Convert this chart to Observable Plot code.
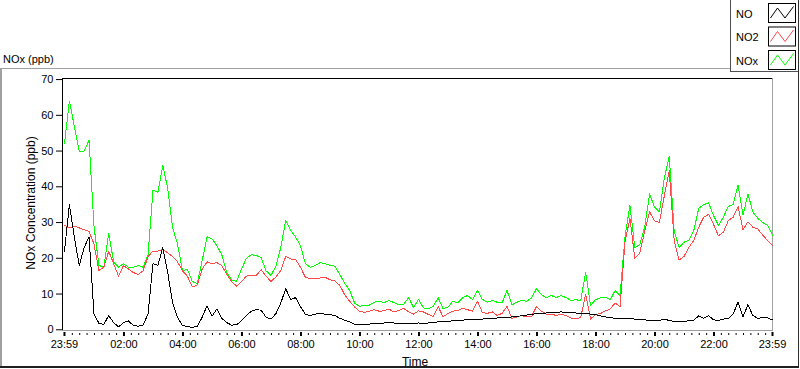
<!DOCTYPE html>
<html>
<head>
<meta charset="utf-8">
<script src="https://cdn.jsdelivr.net/npm/d3@7"></script>
<script src="https://cdn.jsdelivr.net/npm/@observablehq/plot@0.6"></script>
<style>
  html, body { margin: 0; padding: 0; background: #fff; }
  #wrap { position: relative; width: 800px; height: 369px; overflow: hidden; font-family: "Liberation Sans", Arial, sans-serif; color: #000; }
  #chart { position: absolute; left: 0; top: 0; }
  #deco { position: absolute; left: 0; top: 0; pointer-events: none; }
</style>
</head>
<body>
<div id="wrap">
  <div id="chart"></div>
  <svg id="deco" width="800" height="369"></svg>
</div>
<script>
// ---- data (one sample every 10 minutes, starting 23:59 the previous day) ----
const stepMinutes = 10;

const seriesNames = ["NO", "NO2", "NOx"];
const seriesColors = ["#000000", "#ff4848", "#00ff00"];

const NO = [
  22, 35, 26, 18, 23, 26, 4.5, 1.8, 1.5, 4, 2, 0.8, 2, 2.5, 1.2, 1, 1.3, 4.5, 18.5, 18,
  23, 16, 7.5, 3.4, 1.2, 0.9, 0.7, 0.9, 3.5, 6.7, 3.8, 5.8, 3.2, 2, 1.3, 1.4, 2.5, 4, 5.2, 5.6,
  5.5, 3.5, 3, 4.5, 7.5, 11.5, 8.5, 9, 6.5, 4.3, 4, 4.4, 4.5, 4.4, 4.2, 4, 3.2, 2.7, 2.2, 1.5,
  1.4, 1.5, 1.6, 1.7, 1.8, 1.9, 1.9, 1.9, 1.8, 1.8, 1.8, 1.8, 1.9, 1.8, 1.9, 2.1, 2.2, 2.3, 2.4, 2.5,
  2.6, 2.7, 2.8, 2.8, 2.9, 3, 3.1, 3.2, 3.3, 3.4, 3.5, 3.6, 3.8, 3.9, 4.1, 4.3, 4.5, 4.6, 4.7, 4.8,
  4.9, 5, 4.9, 4.8, 4.7, 4.6, 4.5, 4.4, 4.2, 3.9, 3.6, 3.4, 3.2, 3.1, 3.2, 3.1, 3, 2.8, 2.8, 2.6,
  2.7, 2.7, 2.8, 2.7, 2.3, 2.4, 2.4, 2.5, 2.7, 3.9, 3.2, 4, 2.8, 2.6, 3, 3.1, 4.4, 7.8, 3.6, 7,
  4, 3.2, 3.4, 3.3, 2.8
];

const NO2 = [
  29.2, 28.5, 29, 28.5, 28, 27.5, 24, 16.6, 17.5, 22, 18.5, 15, 18, 17, 16, 15.5, 16.5, 20.5, 22, 22,
  22.5, 21.5, 20.5, 19, 16.5, 15, 12, 12.5, 17, 19, 18.5, 18.8, 18, 15.5, 13.5, 12.2, 13.5, 15, 15.3, 15.2,
  16.8, 15, 13.5, 14.8, 16.6, 20.5, 19.8, 19.7, 17.5, 14.7, 14.3, 14.3, 14.5, 14.7, 14, 13.7, 12.4, 9.8, 8, 6.4,
  5.2, 4.9, 5.2, 5.6, 5.2, 5.3, 5.8, 5, 5.4, 6, 5, 4.4, 5.3, 5, 4.3, 3.7, 6.5, 3.6, 4.6, 5.2,
  5.4, 6, 5.6, 5.2, 8, 4.8, 4.6, 5, 4, 4.6, 6.5, 3.2, 3.6, 4, 3.6, 3.7, 6.5, 5.2, 4.4, 4.4,
  4, 4.4, 4, 3.3, 3.1, 3.4, 10, 3, 4.3, 4.5, 5.3, 5.8, 7.5, 6.5, 24.5, 31.2, 20, 21.5, 27.5, 33,
  30.5, 30, 37.5, 44.5, 25, 19.5, 20.5, 23.1, 25, 28.7, 31.5, 32.3, 29.5, 26.3, 27.3, 30.5, 31.5, 34.5, 28, 30.2,
  28.7, 28.2, 26.5, 25, 23.5
];

const NOx = [
  52, 64, 57, 50, 50, 53, 29, 18, 17.5, 27, 19, 17.5, 18.5, 17.5, 17.5, 18, 17.5, 21, 39, 38.5,
  46, 39.5, 28.5, 24, 16.5, 17, 13.5, 12.9, 19.3, 26, 25.5, 23.5, 21, 16, 14, 13.5, 17, 20, 21, 20.8,
  20.2, 16.5, 15.2, 17.8, 23, 30.6, 27.8, 26, 23.5, 18.5, 17.5, 18, 18.8, 18.5, 18, 17.8, 15.5, 13, 11, 7.5,
  6.6, 6.8, 6.9, 7.7, 8, 7.6, 8.2, 7.6, 7, 7.2, 9, 6.2, 8.5, 6.1, 5.9, 6.5, 9, 5.9, 6.3, 8,
  7.5, 9, 9.6, 8.4, 11, 8.5, 7.7, 8.2, 7.7, 7.5, 11, 7, 7.7, 8.2, 8, 8.9, 11.5, 9.8, 9, 9.6,
  9, 9.6, 9, 8.2, 8.4, 8.2, 16.1, 6.8, 8.4, 8.9, 9.1, 8.4, 11, 9.5, 26, 34.8, 23, 23.8, 28.7, 38,
  34.3, 33, 42.5, 48.5, 27.7, 23, 24.5, 25, 27.8, 34, 35, 35.5, 32, 29.2, 31.5, 34.5, 35, 40.5, 32, 38,
  33, 31.2, 30, 29.2, 26.5
];

// axis ticks (minutes after 23:59 of the previous day)
const majorTickMinutes = [0, 121, 241, 361, 481, 601, 721, 841, 961, 1081, 1201, 1321, 1440];
const majorTickLabels = ["23:59", "02:00", "04:00", "06:00", "08:00", "10:00", "12:00", "14:00", "16:00", "18:00", "20:00", "22:00", "23:59"];
const minorTickStep = 15;
const yTicks = [0, 10, 20, 30, 40, 50, 60, 70];

// ---- build table ----
const rows = NO.map((v, i) => ({ t: i * stepMinutes, NO: v, NO2: NO2[i], NOx: NOx[i] }));
const minorTicks = d3.range(1 + minorTickStep, 1440, minorTickStep).filter(t => !majorTickMinutes.includes(t));

const xDomain = [-4, 1440];
const yDomain = [-0.2, 70.3];

const chart = Plot.plot({
  width: 800,
  height: 369,
  marginLeft: 62,
  marginRight: 28,
  marginTop: 78,
  marginBottom: 39,
  style: { fontFamily: "'Liberation Sans', Arial, sans-serif", fontSize: "11px", color: "#000", background: "transparent" },
  x: { domain: xDomain },
  y: { domain: yDomain },
  marks: [
    Plot.frame({ stroke: "#a0a0a0" }),
    Plot.ruleX([xDomain[0]], { stroke: "#000" }),
    Plot.ruleY([yDomain[1]], { stroke: "#000" }),
    Plot.line(rows, { x: "t", y: "NOx", stroke: seriesColors[2], strokeWidth: 1, shapeRendering: "crispEdges" }),
    Plot.line(rows, { x: "t", y: "NO2", stroke: seriesColors[1], strokeWidth: 1, shapeRendering: "crispEdges" }),
    Plot.line(rows, { x: "t", y: "NO", stroke: seriesColors[0], strokeWidth: 1, shapeRendering: "crispEdges" }),
    Plot.axisY({ ticks: yTicks, tickSize: 6, tickPadding: 3, label: null, tickFormat: d => String(d) }),
    Plot.axisX({ ticks: minorTicks, tickSize: 2, dy: 3, tickFormat: () => "", label: null }),
    Plot.axisX({ ticks: majorTickMinutes, tickSize: 4, dy: 2, strokeWidth: 2, tickFormat: () => "", label: null }),
    Plot.axisX({ ticks: majorTickMinutes, tickSize: 0, tickPadding: 10, label: null,
      tickFormat: d => majorTickLabels[majorTickMinutes.indexOf(d)] })
  ]
});
document.getElementById("chart").appendChild(chart);

// ---- decorations: panel frame, titles, legend ----
const deco = d3.select("#deco");
const font = "'Liberation Sans', Arial, sans-serif";
// outer panel
deco.append("line").attr("x1", 0).attr("x2", 730).attr("y1", 68.5).attr("y2", 68.5).attr("stroke", "#a0a0a0");
deco.append("line").attr("x1", 1).attr("x2", 1).attr("y1", 68).attr("y2", 368).attr("stroke", "#a0a0a0").attr("stroke-width", 2);
deco.append("line").attr("x1", 798.5).attr("x2", 798.5).attr("y1", 0).attr("y2", 368).attr("stroke", "#303030");
deco.append("line").attr("x1", 0).attr("x2", 799).attr("y1", 367).attr("y2", 367).attr("stroke", "#202020").attr("stroke-width", 2);
// titles
deco.append("text").attr("x", 3).attr("y", 63).attr("font-family", font).attr("font-size", 11).text("NOx (ppb)");
deco.append("text").attr("x", 415).attr("y", 366).attr("text-anchor", "middle").attr("font-family", font).attr("font-size", 12).text("Time");
deco.append("text").attr("transform", "translate(35,203) rotate(-90)").attr("text-anchor", "middle")
  .attr("font-family", font).attr("font-size", 12).text("NOx Concentration (ppb)");
// legend
const lg = deco.append("g").attr("transform", "translate(730,0)");
lg.append("rect").attr("x", 0).attr("y", 0).attr("width", 69).attr("height", 72).attr("fill", "#fff");
lg.append("line").attr("x1", 0.5).attr("x2", 0.5).attr("y1", 0).attr("y2", 72).attr("stroke", "#505050");
lg.append("line").attr("x1", 0).attr("x2", 69).attr("y1", 71.5).attr("y2", 71.5).attr("stroke", "#505050");
lg.append("line").attr("x1", 68.5).attr("x2", 68.5).attr("y1", 0).attr("y2", 72).attr("stroke", "#303030");
seriesNames.forEach((name, i) => {
  const top = 3 + i * 23.5;
  lg.append("text").attr("x", 6).attr("y", top + 14.5).attr("font-family", font).attr("font-size", 11).text(name);
  lg.append("rect").attr("x", 38.5).attr("y", top + 0.5).attr("width", 27).attr("height", 19)
    .attr("fill", "#fff").attr("stroke", "#000");
  lg.append("polyline")
    .attr("points", [[40.5, top + 15], [47.5, top + 5], [55, top + 15], [63.5, top + 3.5]].map(p => p.join(",")).join(" "))
    .attr("fill", "none").attr("stroke", seriesColors[i]).attr("stroke-width", 1);
});
</script>
</body>
</html>
